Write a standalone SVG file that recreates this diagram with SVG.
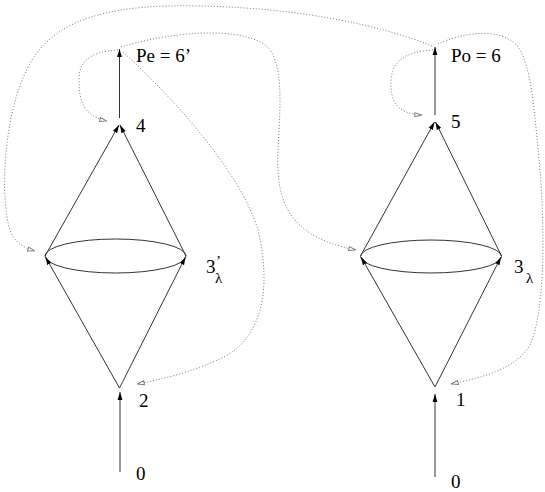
<svg xmlns="http://www.w3.org/2000/svg" width="545" height="492" viewBox="0 0 545 492">
<style>
.t{font-family:"Liberation Serif","Times New Roman",serif;font-size:19px;fill:#000}
.s{font-size:15px}
.e{fill:none;stroke:#333;stroke-width:1}
.d{fill:none;stroke:#777;stroke-width:1;stroke-dasharray:1 2}
</style>
<defs>
<marker id="a" viewBox="0 0 10 10" refX="10" refY="5" markerWidth="8" markerHeight="8" markerUnits="userSpaceOnUse" orient="auto"><path d="M0,2 L10,5 L0,8 z" fill="#000"/></marker>
<marker id="h" viewBox="0 0 10 10" refX="10" refY="5" markerWidth="8" markerHeight="8" markerUnits="userSpaceOnUse" orient="auto"><path d="M1,2.5 L9.5,5 L1,7.5 z" fill="#fff" stroke="#777" stroke-width="1.2"/></marker>
</defs>
<g id="nodes">
<g id="left-0"><text class="t" x="136" y="480">0</text></g>
<g id="node-2"><text class="t" x="139" y="407">2</text></g>
<g id="node-3p"><ellipse class="e" cx="115.5" cy="256" rx="70.5" ry="17"/><text class="t" x="206" y="273">3<tspan class="s" x="216" y="266">’</tspan><tspan class="s" x="215" y="283">λ</tspan></text></g>
<g id="node-4"><text class="t" x="136" y="132">4</text></g>
<g id="node-Pe"><text class="t" x="136" y="62">Pe = 6’</text></g>
<g id="right-0"><text class="t" x="451" y="488">0</text></g>
<g id="node-1"><text class="t" x="456" y="406">1</text></g>
<g id="node-3"><ellipse class="e" cx="431" cy="256.5" rx="70.5" ry="16.5"/><text class="t" x="514" y="273">3<tspan class="s" x="526" y="283">λ</tspan></text></g>
<g id="node-5"><text class="t" x="451" y="128">5</text></g>
<g id="node-Po"><text class="t" x="451" y="62">Po = 6</text></g>
</g>
<g id="connectors">
<path class="e" d="M120,472 L120,392" marker-end="url(#a)"/>
<path class="e" d="M119.5,388 L45.5,257" marker-end="url(#a)"/>
<path class="e" d="M119.5,388 L185.5,257" marker-end="url(#a)"/>
<path class="e" d="M45,256 L119,125" marker-end="url(#a)"/>
<path class="e" d="M186,256 L120,125" marker-end="url(#a)"/>
<path class="e" d="M119.5,118 L119.5,49" marker-end="url(#a)"/>
<path class="e" d="M435,477 L435,394" marker-end="url(#a)"/>
<path class="e" d="M435,387 L361,257" marker-end="url(#a)"/>
<path class="e" d="M435,387 L501,257" marker-end="url(#a)"/>
<path class="e" d="M360.5,256 L434.5,122" marker-end="url(#a)"/>
<path class="e" d="M501.5,256 L435.5,122" marker-end="url(#a)"/>
<path class="e" d="M435,115 L435,47" marker-end="url(#a)"/>
<path class="d" d="M118,50 C88,52 79,62 79,80 C79,102 84,116 107,121" marker-end="url(#h)"/>
<path class="d" d="M121,47 C160,35 230,24 264,44 C285,58 280,110 278,150 C276,200 286,236 356,250" marker-end="url(#h)"/>
<path class="d" d="M123,52 C170,95 240,170 258,230 C272,290 262,338 222,358 C192,372 160,380 137,384" marker-end="url(#h)"/>
<path class="d" d="M432,46 C380,25 300,8 200,6 C120,4 60,15 32,60 C2,110 0,200 10,230 C15,243 24,248 35,251" marker-end="url(#h)"/>
<path class="d" d="M433,50 C405,52 393,60 391,80 C390,100 396,114 422,115" marker-end="url(#h)"/>
<path class="d" d="M438,44 C460,33 502,26 518,47 C532,65 535,120 540,170 C545,230 545,312 530,345 C515,370 480,378 451,384" marker-end="url(#h)"/>
</g>
</svg>
